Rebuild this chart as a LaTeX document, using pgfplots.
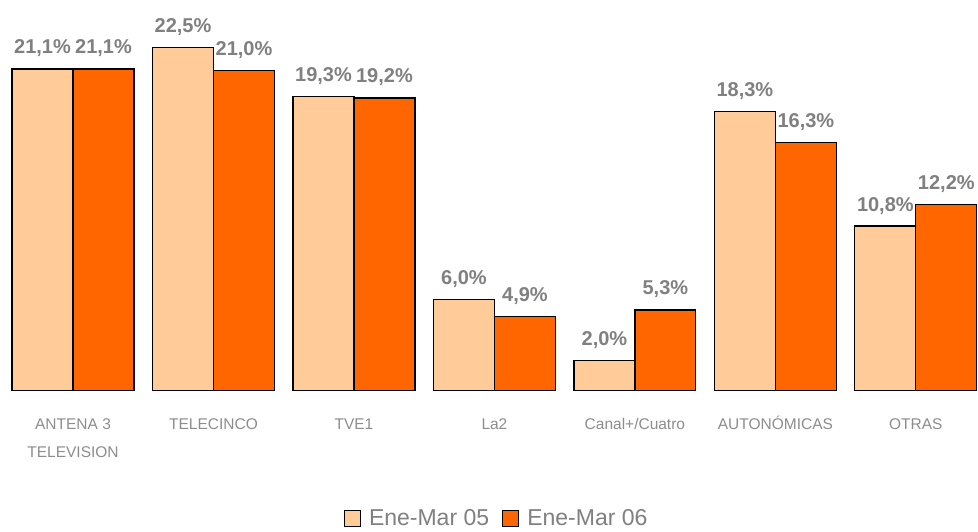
\documentclass[border=0pt]{standalone}
\usepackage{pgfplots}
\pgfplotsset{compat=1.18}
\usepackage{fontspec}
\setmainfont{Liberation Sans}
\definecolor{light}{RGB}{255,204,153}
\definecolor{dark}{RGB}{255,102,0}
\definecolor{lbl}{RGB}{128,128,128}
\definecolor{cat}{RGB}{140,140,140}
\begin{document}
\begin{tikzpicture}
\begin{axis}[
  scale only axis,
  width=978pt, height=391pt,
  at={(0pt,0pt)}, anchor=south west,
  xmin=-0.52, xmax=6.44,
  ymin=0, ymax=25.62,
  ybar=0pt, bar width=61pt,
  axis x line*=bottom, axis y line=none,
  axis line style={draw=none},
  ytick=\empty,
  xtick={0,1,2,3,4,5,6},
  xticklabels={{\vphantom{Ó}ANTENA 3\\TELEVISION},\vphantom{Ó}TELECINCO,\vphantom{Ó}TVE1,\vphantom{Ó}La2,\vphantom{Ó}Canal+/Cuatro,AUTONÓMICAS,\vphantom{Ó}OTRAS},
  major tick length=0pt,
  xticklabel style={align=center, font=\fontsize{15.5}{28}\selectfont, text=cat, anchor=north, yshift=-22pt},
  clip=false,
  /pgf/number format/assume math mode=true,
  nodes near coords={\pgfmathprintnumber[fixed,fixed zerofill,precision=1,use comma,assume math mode=true]{\pgfplotspointmeta}\%},
  every node near coord/.append style={font=\bfseries\fontsize{20}{22}\selectfont, text=lbl, anchor=south, yshift=8pt},
  legend style={at={(axis description cs:0.508,-0.327)}, anchor=center, draw=none, legend columns=2,
    font=\fontsize{23}{24}\selectfont, text=lbl,
    /tikz/every odd column/.append style={column sep=6pt},
    /tikz/every even column/.append style={column sep=11pt},
    legend cell align=left},
  legend image code/.code={\draw[#1,line width=1.2pt] (0pt,-8pt) rectangle (16pt,8pt);},
]
\addplot[fill=light, draw=black, line width=1.2pt] coordinates {(0,21.1) (1,22.5) (2,19.3) (3,6.0) (4,2.0) (5,18.3) (6,10.8)};
\addplot[fill=dark, draw=black, line width=1.2pt] coordinates {(0,21.1) (1,21.0) (2,19.2) (3,4.9) (4,5.3) (5,16.3) (6,12.2)};
\legend{Ene-Mar 05, Ene-Mar 06}
\end{axis}
\path[use as bounding box] (0pt,-140pt) rectangle (978pt,391pt);
\end{tikzpicture}
\end{document}
